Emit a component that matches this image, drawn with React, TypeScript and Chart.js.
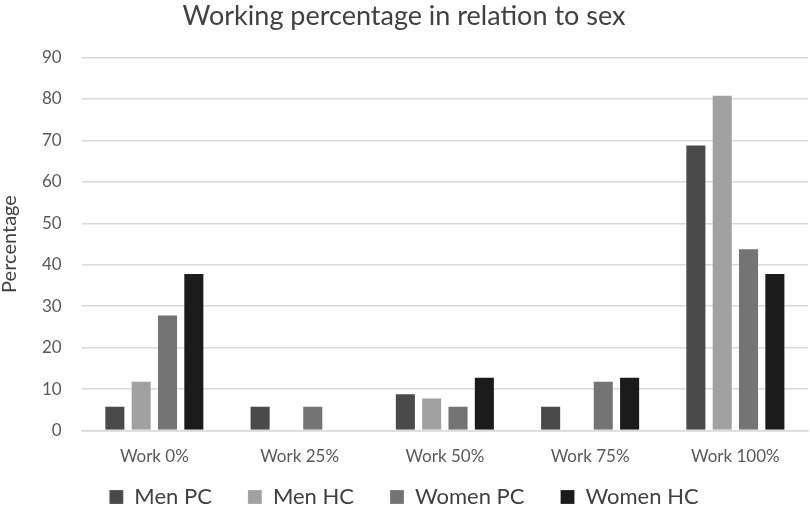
import React, { useEffect, useRef } from "react";
import { Chart, registerables } from "chart.js";

Chart.register(...registerables);

const categories = ["Work 0%", "Work 25%", "Work 50%", "Work 75%", "Work 100%"];
const menPC = [6, 6, 9, 6, 69];
const menHC = [12, 0, 8, 0, 81];
const womenPC = [28, 6, 6, 12, 44];
const womenHC = [38, 0, 13, 13, 38];
const seriesNames = ["Men PC", "Men HC", "Women PC", "Women HC"];
const seriesColors = ["#4a4a4a", "#a1a1a1", "#747474", "#1b1b1b"];

const FONT = "Lato, 'Open Sans', sans-serif";

export default function App() {
  const ref = useRef<HTMLCanvasElement>(null);
  useEffect(() => {
    if (!ref.current) return;
    const values = [menPC, menHC, womenPC, womenHC];
    const chart = new Chart(ref.current, {
      type: "bar",
      data: {
        labels: categories,
        datasets: values.map((d, i) => ({
          label: seriesNames[i],
          data: d,
          backgroundColor: seriesColors[i],
          borderColor: "rgba(255,255,255,0.2)",
          borderWidth: 1,
          categoryPercentage: 0.725,
          barPercentage: 0.8,
        })),
      },
      options: {
        animation: false,
        responsive: false,
        maintainAspectRatio: false,
        layout: { padding: { left: 0, right: 2, top: 0, bottom: -4 } },
        plugins: {
          title: {
            display: true,
            text: "Working percentage in relation to sex",
            color: "#404040",
            font: { family: FONT, size: 27, weight: "normal" },
            padding: { top: 0, bottom: 25 },
          },
          legend: {
            position: "bottom",
            labels: {
              color: "#404040",
              font: { family: FONT, size: 22 },
              boxWidth: 14,
              boxHeight: 14,
              padding: 3,
              generateLabels: (c: any) => {
                const items = Chart.defaults.plugins.legend.labels.generateLabels(c);
                return items.map((it: any, i: number) => ({
                  ...it,
                  text: i < items.length - 1 ? it.text + "\u2002\u2002\u2002" : it.text,
                }));
              },
            },
          },
          tooltip: { enabled: false },
        },
        scales: {
          x: {
            grid: { display: false, drawTicks: false },
            border: { display: true, color: "#d9d9d9", width: 1.5 },
            ticks: {
              color: "#595959",
              font: { family: FONT, size: 17, lineHeight: 1.2 },
              padding: 16,
            },
          },
          y: {
            min: 0,
            max: 90,
            title: {
              display: true,
              text: "Percentage",
              color: "#404040",
              font: { family: FONT, size: 20, lineHeight: 1 },
              padding: { top: 0, bottom: 2 },
            },
            grid: { color: "#d9d9d9", lineWidth: 1.5, drawTicks: false },
            border: { display: false },
            ticks: {
              stepSize: 10,
              color: "#595959",
              font: { family: FONT, size: 17 },
              padding: 20,
            },
          },
        },
      },
    });
    return () => chart.destroy();
  }, []);
  return (
    <div style={{ position: "fixed", left: 0, top: 0, width: 810, height: 514, background: "#fff" }}>
      <canvas ref={ref} width={810} height={514} />
    </div>
  );
}
